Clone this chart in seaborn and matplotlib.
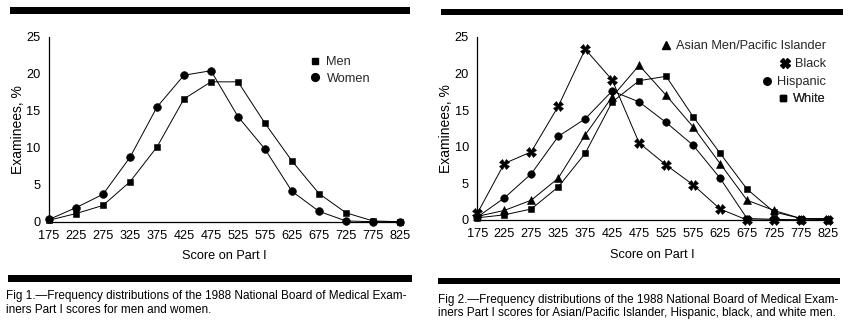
import matplotlib
matplotlib.use("Agg")
import matplotlib.pyplot as plt
from matplotlib.patches import Rectangle
from matplotlib.lines import Line2D
import seaborn as sns
import pandas as pd

sns.set_theme(style="white")
plt.rcParams['font.family'] = ['Liberation Sans', 'DejaVu Sans']

scores = [175, 225, 275, 325, 375, 425, 475, 525, 575, 625, 675, 725, 775, 825]
score_labels = [str(s) for s in scores]
y_ticks = [0, 5, 10, 15, 20, 25]

# Fig 1: men vs women (% of examinees)
men = [0.2, 1.1, 2.2, 5.4, 10.1, 16.6, 18.9, 18.9, 13.3, 8.2, 3.8, 1.2, 0.1, 0.0]
women = [0.3, 1.9, 3.7, 8.7, 15.5, 19.8, 20.4, 14.2, 9.8, 4.1, 1.4, 0.1, 0.0, 0.0]

# Fig 2: men by race/ethnicity (% of examinees)
asian = [0.5, 1.3, 2.7, 5.7, 11.6, 16.8, 21.1, 17.0, 12.7, 7.7, 2.7, 1.3, 0.2, 0.2]
black = [0.9, 7.7, 9.3, 15.5, 23.3, 19.1, 10.5, 7.5, 4.8, 1.5, 0.0, 0.0, 0.0, 0.0]
hispanic = [0.4, 3.0, 6.3, 11.4, 13.8, 17.6, 16.1, 13.3, 10.2, 5.7, 0.2, 0.1, 0.0, 0.0]
white = [0.3, 0.7, 1.5, 4.5, 9.1, 16.1, 19.0, 19.6, 14.1, 9.1, 4.2, 1.1, 0.2, 0.0]

fig1_series = [("Men", men, "s", 4.6), ("Women", women, "o", 5.6)]
fig2_series = [("Asian Men/Pacific Islander", asian, "^", 6.2),
               ("Black", black, "X", 7.0),
               ("Hispanic", hispanic, "o", 5.4),
               ("White", white, "s", 4.6)]

caption1 = ("Fig 1.\u2014Frequency distributions of the 1988 National Board of Medical Exam-\n"
            "iners Part I scores for men and women.")
caption2 = ("Fig 2.\u2014Frequency distributions of the 1988 National Board of Medical Exam-\n"
            "iners Part I scores for Asian/Pacific Islander, Hispanic, black, and white men.")

FS = 9.2
W, H = 851, 328
fig = plt.figure(figsize=(W / 100, H / 100), dpi=100)


def px_axes(x0, y0, x1, y1):
    return fig.add_axes([x0 / W, 1 - y1 / H, (x1 - x0) / W, (y1 - y0) / H])


def bar(x0, y0, x1, y1):
    fig.add_artist(Rectangle((x0 / W, 1 - y1 / H), (x1 - x0) / W, (y1 - y0) / H,
                             transform=fig.transFigure, color="black", lw=0))


def draw_panel(ax, series):
    for name, vals, mk, ms in series:
        df = pd.DataFrame({"score": scores, "pct": vals})
        sns.lineplot(data=df, x="score", y="pct", ax=ax, color="black", lw=0.7,
                     marker=mk, markersize=ms, markeredgecolor="black",
                     markeredgewidth=0.4, clip_on=False, label=name, legend=False)
    ax.set_xlim(175, 825)
    ax.set_ylim(0, 25)
    ax.set_xticks(scores)
    ax.set_xticklabels(score_labels)
    ax.set_yticks(y_ticks)
    ax.tick_params(axis="both", length=0, labelsize=FS, colors="black")
    ax.tick_params(axis="x", pad=6)
    ax.tick_params(axis="y", pad=6)
    for side in ("top", "right"):
        ax.spines[side].set_visible(False)
    for side in ("left", "bottom"):
        ax.spines[side].set_color("black")
        ax.spines[side].set_linewidth(0.9)
    ax.set_xlabel("Score on Part I", fontsize=FS, color="black", labelpad=6)
    ax.set_ylabel("Examinees, %", fontsize=FS + 0.8, color="black", labelpad=1)
    ax.set_facecolor("white")


ax1 = px_axes(49, 36.7, 400, 221.7)
draw_panel(ax1, fig1_series)
handles1 = [Line2D([], [], ls="none", marker=mk, color="black", markersize=ms)
            for _, _, mk, ms in fig1_series]
ax1.legend(handles1, [s[0] for s in fig1_series], loc="upper left",
           bbox_to_anchor=(0.725, 0.93), frameon=False, fontsize=FS,
           handlelength=0.8, handletextpad=0.5, labelspacing=0.35, borderpad=0)

ax2 = px_axes(477.3, 36.7, 828, 220)
draw_panel(ax2, fig2_series)
# right-aligned legend rows, one per series
row_y = [46, 64, 82, 99]
for (name, _, mk, ms), yy in zip(fig2_series, row_y):
    h = Line2D([], [], ls="none", marker=mk, color="black", markersize=ms)
    leg = ax2.legend([h], [name], loc="center right",
                     bbox_to_anchor=(826 / W, 1 - yy / H),
                     bbox_transform=fig.transFigure, frameon=False, fontsize=FS,
                     handlelength=0.8, handletextpad=0.4, borderpad=0,
                     borderaxespad=0)
    ax2.add_artist(leg)

# rules above and below each figure
bar(10, 7, 410, 13.5)
bar(441, 8.5, 843, 15)
bar(8, 275, 412, 281.5)
bar(438, 278, 840, 284)

cap_font = ['Liberation Sans Narrow', 'Liberation Sans', 'DejaVu Sans']
fig.text(6 / W, 1 - 290.5 / H, caption1, fontsize=8.5, family=cap_font,
         va="top", ha="left", linespacing=1.12, color="black")
fig.text(438 / W, 1 - 294 / H, caption2, fontsize=8.5, family=cap_font,
         va="top", ha="left", linespacing=1.12, color="black")

fig.savefig("out.png", dpi=100, facecolor="white")
